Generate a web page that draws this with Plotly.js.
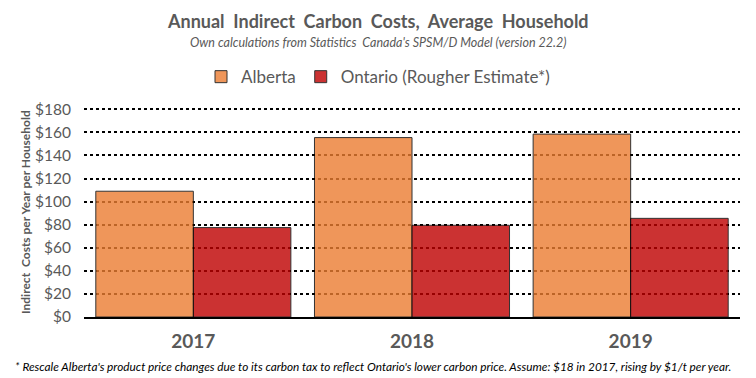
<!DOCTYPE html>
<html>
<head>
<meta charset="utf-8">
<script src="https://cdn.plot.ly/plotly-3.0.1.min.js"></script>
<style>html,body{margin:0;padding:0;background:#fff;}#chart{width:756px;height:378px;}</style>
</head>
<body>
<div id="chart"></div>
<script>
const years = ['2017', '2018', '2019'];
const alberta = [109, 155.5, 158.5];
const ontario = [77.5, 79.5, 85.5];
const seriesNames = ['Alberta', 'Ontario (Rougher Estimate*)'];
const yTickVals = [0, 20, 40, 60, 80, 100, 120, 140, 160, 180];
const yTickText = ['$0', '$20', '$40', '$60', '$80', '$100', '$120', '$140', '$160', '$180'];

const FONT = 'Lato, "Open Sans", sans-serif';
const GREY = '#595959';

const traces = [
  {type: 'bar', x: years, y: alberta, name: seriesNames[0], opacity: 0.8,
   marker: {color: 'rgb(236,125,49)', line: {color: '#000', width: 1}}},
  {type: 'bar', x: years, y: ontario, name: seriesNames[1], opacity: 0.8,
   marker: {color: 'rgb(191,0,0)', line: {color: '#000', width: 1}}}
];

const layout = {
  width: 756, height: 378,
  margin: {l: 84, r: 15.5, t: 106.7, b: 61.3},
  paper_bgcolor: '#fff', plot_bgcolor: '#fff',
  barmode: 'group', bargap: 0.108, bargroupgap: 0,
  showlegend: true,
  legend: {orientation: 'h', xref: 'container', yref: 'container', x: 0.5, xanchor: 'center',
           y: 0.796, yanchor: 'middle', font: {family: FONT, size: 17, color: GREY},
           traceorder: 'normal'},
  xaxis: {type: 'category', showline: true, linecolor: '#000', linewidth: 2,
          showgrid: false, ticks: '', ticklabelstandoff: 6,
          tickfont: {family: FONT, size: 19, color: GREY, weight: 'bold'}},
  yaxis: {range: [0, 182], tickvals: yTickVals, ticktext: yTickText,
          showgrid: true, gridcolor: '#000', gridwidth: 2, griddash: 'dot',
          zeroline: false, showline: false, ticks: '', ticklabelstandoff: 12,
          tickfont: {family: FONT, size: 15.5, color: GREY}},
  annotations: [
    {text: 'Annual  Indirect  Carbon  Costs,  Average  Household', xref: 'paper', yref: 'paper',
     x: 0.448, y: 1.41, xanchor: 'center', yanchor: 'middle', showarrow: false,
     font: {family: FONT, size: 18, color: GREY, weight: 'bold'}},
    {text: "Own calculations from Statistics  Canada's SPSM/D Model (version 22.2)", xref: 'paper', yref: 'paper',
     x: 0.448, y: 1.305, xanchor: 'center', yanchor: 'middle', showarrow: false,
     font: {family: FONT, size: 12.5, color: GREY, style: 'italic'}},
    {text: 'Indirect  Costs per Year per Household', xref: 'paper', yref: 'paper',
     x: -0.09, y: 0.5, xanchor: 'center', yanchor: 'middle', textangle: -90, showarrow: false,
     font: {family: FONT, size: 12, color: GREY, weight: 'bold'}},
    {text: "* Rescale Alberta's product price changes due to its carbon tax to reflect Ontario's lower carbon price. Assume: $18 in 2017, rising by $1/t per year.",
     xref: 'paper', yref: 'paper', x: 0.44, y: -0.237, xanchor: 'center', yanchor: 'middle', showarrow: false,
     font: {family: FONT, size: 11.8, color: '#000', style: 'italic'}}
  ]
};

Plotly.newPlot('chart', traces, layout, {displayModeBar: false, staticPlot: true});
</script>
</body>
</html>
